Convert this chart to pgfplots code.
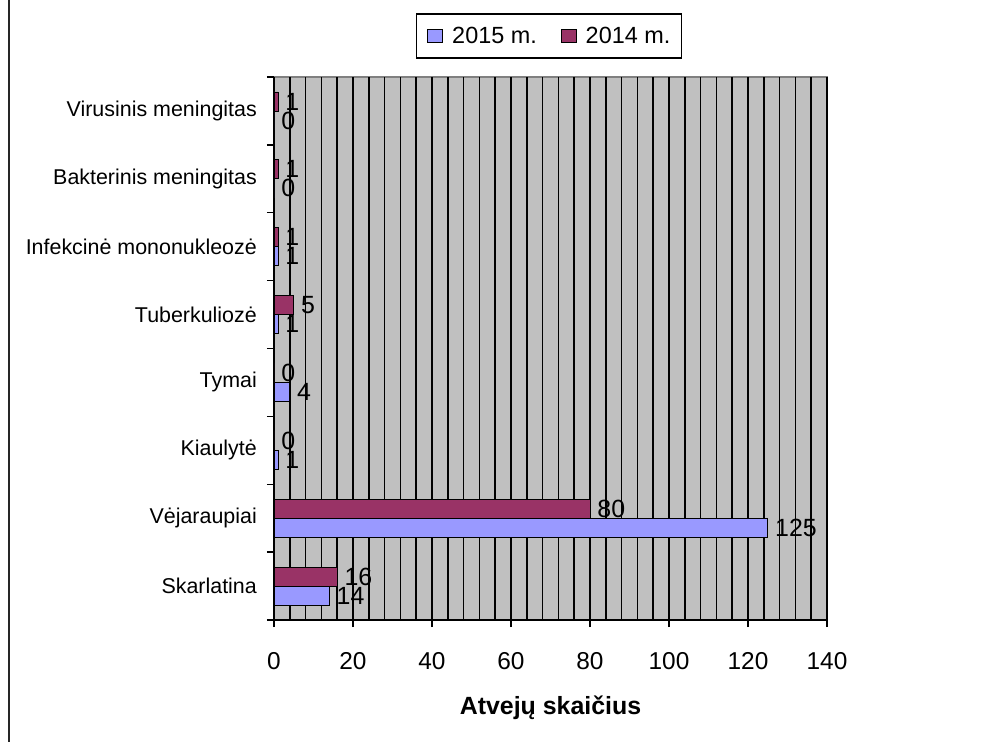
\documentclass[border=0pt]{standalone}
\usepackage{pgfplots}
\pgfplotsset{compat=1.18}
\usepackage{fontspec}
\setmainfont{Liberation Sans}
\definecolor{cBlue}{RGB}{153,153,255}
\definecolor{cMaroon}{RGB}{153,51,102}
\definecolor{cBg}{RGB}{192,192,192}
\definecolor{cBorder}{RGB}{128,128,128}
\begin{document}
\begin{tikzpicture}
\path[use as bounding box] (0,0) rectangle (992bp,742bp);
\draw[line width=2bp, black!85] (9bp,0) -- (9bp,742bp);
\begin{axis}[
  at={(274bp,122bp)}, anchor=south west,
  scale only axis, width=553bp, height=543bp,
  xbar, bar width=0.28,
  xmin=0, xmax=140, ymin=-0.5, ymax=7.5,
  xtick={0,20,...,140},
  minor x tick num=4,
  xmajorgrids, xminorgrids,
  major grid style={black, line width=1.6bp},
  minor grid style={black, line width=1.6bp},
  minor tick length=0pt,
  major tick length=7bp,
  tick align=outside,
  tick style={black, line width=1.3bp},
  ytick={-0.5,0.5,...,7.5},
  y tick label as interval,
  yticklabels={Skarlatina,Vėjaraupiai,Kiaulytė,Tymai,Tuberkuliozė,Infekcinė mononukleozė,Bakterinis meningitas,Virusinis meningitas},
  axis x line*=bottom, axis y line*=left,
  axis line style={black, line width=1.6bp},
  axis background/.style={fill=cBg, draw=cBorder, line width=2.5bp},
  /pgf/number format/assume math mode=true,
  xticklabel style={font=\fontsize{24.5}{28}\selectfont, inner sep=0pt, anchor=north, yshift=-25bp},
  yticklabel style={font=\fontsize{21.5}{25}\selectfont, inner sep=0pt, anchor=east, xshift=-10bp},
  xlabel={\textbf{Atvejų skaičius}},
  xlabel style={font=\fontsize{25}{30}\selectfont, at={(axis description cs:0.5,0)}, anchor=base, yshift=-94bp},
  nodes near coords,
  every node near coord/.append style={font=\fontsize{25}{28}\selectfont, anchor=west, inner sep=0pt, xshift=7bp, black},
  legend columns=2,
  legend style={at={(axis description cs:0.497,1.0755)}, anchor=center, draw=black, line width=1.2bp,
    font=\fontsize{23.5}{27}\selectfont, inner xsep=11bp, inner ysep=13bp,
    nodes={inner sep=0pt},
    /tikz/every odd column/.append style={column sep=9bp},
    /tikz/every even column/.append style={column sep=24bp}},
  legend image code/.code={\draw[#1, line width=0.9bp] (0bp,-6.5bp) rectangle (15bp,6.5bp);},
]
\addplot[draw=black, line width=0.8bp, fill=cBlue, bar shift=-0.14] coordinates {
  (14,0) (125,1) (1,2) (4,3) (1,4) (1,5) (0,6) (0,7)};
\addplot[draw=black, line width=0.8bp, fill=cMaroon, bar shift=0.14] coordinates {
  (16,0) (80,1) (0,2) (0,3) (5,4) (1,5) (1,6) (1,7)};
\legend{2015 m.,2014 m.}
\end{axis}
\end{tikzpicture}
\end{document}
